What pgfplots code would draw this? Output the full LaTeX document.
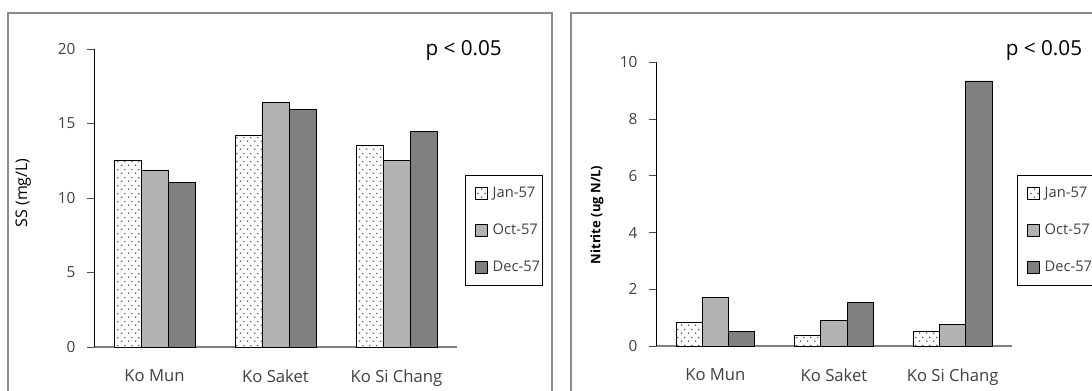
\documentclass[border=0pt]{standalone}
\usepackage{fontspec}
\setmainfont{Open Sans}
\usepackage{pgfplots}
\pgfplotsset{compat=1.18}
\usetikzlibrary{patterns}
\definecolor{octc}{HTML}{B2B2B2}
\definecolor{decc}{HTML}{808080}
\definecolor{tickc}{HTML}{404040}
\definecolor{framec}{HTML}{8C8C8C}
\pgfdeclarepatternformonly{mydots}{\pgfqpoint{0pt}{0pt}}{\pgfqpoint{5pt}{6pt}}{\pgfqpoint{5pt}{6pt}}{%
  \pgfpathcircle{\pgfqpoint{1.25pt}{1.5pt}}{0.7pt}%
  \pgfpathcircle{\pgfqpoint{3.75pt}{4.5pt}}{0.7pt}%
  \pgfusepath{fill}}
\pgfplotsset{
  panel/.style={
    scale only axis,
    xmin=-0.5, xmax=2.5, ymin=0,
    axis x line*=bottom, axis y line*=left,
    axis line style={-},
    x axis line style={draw=decc, line width=1.3pt},
    y axis line style={draw=black, line width=0.7pt},
    xtick={0,1,2},
    xticklabels={Ko Mun, Ko Saket, Ko Si Chang},
    xtick style={draw=none},
    ytick style={draw=black!70, line width=0.6pt},
    tick align=outside,
    major tick length=5.5pt,
    xticklabel style={font=\fontsize{12.5}{14}\selectfont, text=tickc, yshift=-8pt},
    yticklabel style={font=\fontsize{11.5}{14}\selectfont, text=tickc, xshift=-5pt},
    /pgf/number format/assume math mode=true,
    ybar=0pt,
    legend cell align=left,
    legend image code/.code={\draw[##1, line width=0.5pt] (0pt,-4.25pt) rectangle (8.5pt,4.25pt); \path (12.5pt,0pt);},
    legend style={anchor=north west, draw=black, line width=0.5pt,
      font=\fontsize{11}{12}\selectfont, text=tickc,
      nodes={inner sep=0pt, text height=8pt, text depth=2pt},
      row sep=17.75pt, inner xsep=7.5pt, inner ysep=8.5pt},
    clip=false,
  },
  jan/.style={draw=black, line width=0.6pt, fill=white, postaction={pattern=mydots, pattern color=black!65}},
  oct/.style={draw=black, line width=0.6pt, fill=octc},
  dec/.style={draw=black, line width=0.6pt, fill=decc},
}
\begin{document}
\begin{tikzpicture}
\begin{scope}[x=0.75pt,y=0.75pt]
\fill[white] (0,0) rectangle (1092,390);
\draw[framec, line width=0.8pt] (8,-10) -- (8,377) -- (552,377) -- (552,-10);
\draw[framec, line width=0.8pt] (571,-10) -- (571,377) -- (1092,377);
\node[font=\fontsize{15.5}{18}\selectfont] at (463.7,340) {p < 0.05};
\node[font=\fontsize{15.5}{18}\selectfont] at (1044,340) {p < 0.05};
\end{scope}

\begin{axis}[panel, at={(70.5pt,32.25pt)}, anchor=south west,
  width=272.25pt, height=223.5pt, ymax=20, ytick={0,5,10,15,20},
  bar width=20.25pt,
  ylabel={SS (mg/L)},
  ylabel style={at={(axis description cs:-0.195,0.517)}, anchor=center, font=\fontsize{12}{14}\selectfont},
  legend style={at={(1.022,0.577)}},
]
\addplot[jan] coordinates {(0,12.55) (1,14.18) (2,13.51)};
\addplot[oct] coordinates {(0,11.88) (1,16.42) (2,12.55)};
\addplot[dec] coordinates {(0,11.05) (1,15.95) (2,14.45)};
\legend{\makebox[30pt][l]{Jan-57},\makebox[30pt][l]{Oct-57},\makebox[30pt][l]{Dec-57}}
\end{axis}

\begin{axis}[panel, at={(492pt,33pt)}, anchor=south west,
  width=267pt, height=212.8pt, ymax=10, ytick={0,2,4,6,8,10},
  bar width=19.7pt,
  ylabel={\bfseries Nitrite (ug N/L)},
  ylabel style={at={(axis description cs:-0.166,0.462)}, anchor=center, font=\fontsize{9.8}{12}\selectfont},
  legend style={at={(1.014,0.603)}},
]
\addplot[jan] coordinates {(0,0.835) (1,0.36) (2,0.505)};
\addplot[oct] coordinates {(0,1.72) (1,0.90) (2,0.76)};
\addplot[dec] coordinates {(0,0.505) (1,1.53) (2,9.34)};
\legend{\makebox[30pt][l]{Jan-57},\makebox[30pt][l]{Oct-57},\makebox[30pt][l]{Dec-57}}
\end{axis}

\pgfresetboundingbox
\useasboundingbox (0,0) rectangle (819pt,292.5pt);
\end{tikzpicture}
\end{document}
